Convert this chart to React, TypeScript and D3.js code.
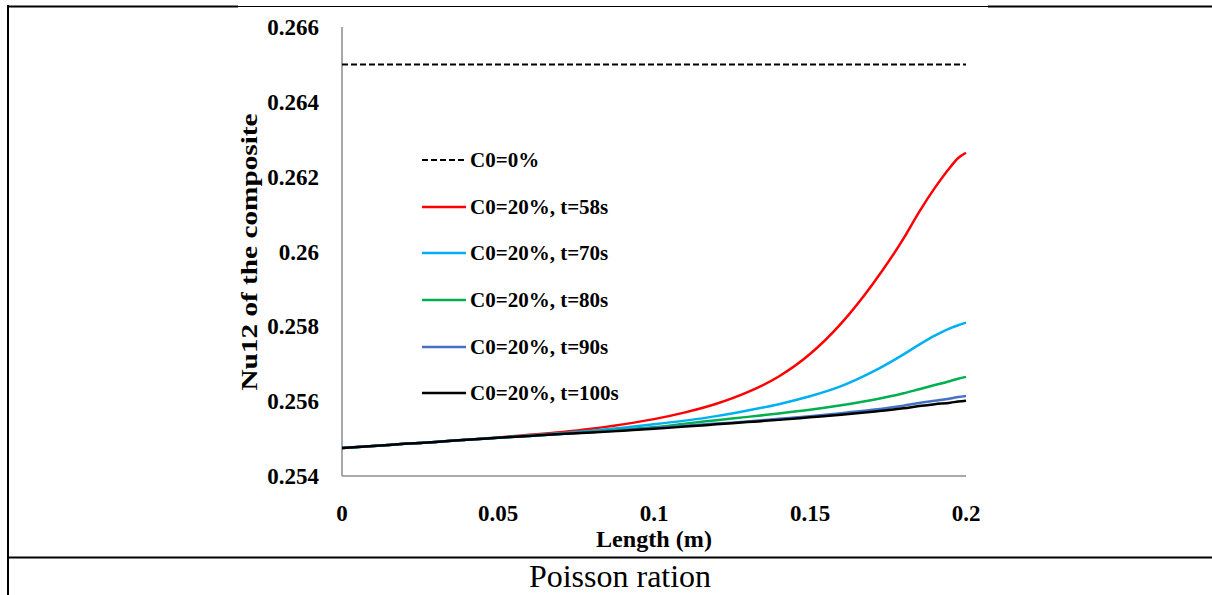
import React from "react";
import * as d3 from "d3";

const xValues = [0, 0.01, 0.02, 0.03, 0.04, 0.05, 0.06, 0.07, 0.08, 0.09, 0.1, 0.11, 0.12, 0.13, 0.14, 0.15, 0.16, 0.17, 0.18, 0.185, 0.19, 0.195, 0.1975, 0.2];
const c0Zero = [0.265, 0.265, 0.265, 0.265, 0.265, 0.265, 0.265, 0.265, 0.265, 0.265, 0.265, 0.265, 0.265, 0.265, 0.265, 0.265, 0.265, 0.265, 0.265, 0.265, 0.265, 0.265, 0.265, 0.265];
const t58 = [0.25475, 0.2548, 0.25486, 0.25491, 0.25497, 0.25503, 0.2551, 0.25517, 0.25526, 0.25538, 0.25552, 0.2557, 0.25593, 0.25624, 0.25666, 0.25726, 0.25808, 0.25912, 0.26035, 0.26106, 0.2617, 0.26226, 0.2625, 0.26264];
const t70 = [0.25475, 0.2548, 0.25486, 0.25491, 0.25497, 0.25502, 0.25508, 0.25514, 0.25521, 0.25529, 0.25538, 0.25548, 0.2556, 0.25575, 0.25592, 0.25613, 0.2564, 0.25678, 0.25725, 0.25751, 0.25775, 0.25795, 0.25803, 0.2581];
const t80 = [0.25475, 0.2548, 0.25486, 0.25491, 0.25497, 0.25502, 0.25507, 0.25512, 0.25518, 0.25524, 0.2553, 0.2554, 0.25549, 0.25558, 0.25567, 0.25577, 0.25589, 0.25603, 0.25621, 0.25632, 0.25643, 0.25654, 0.2566, 0.25665];
const t90 = [0.25475, 0.2548, 0.25486, 0.25491, 0.25497, 0.25502, 0.25507, 0.25512, 0.25517, 0.25522, 0.25528, 0.25534, 0.2554, 0.25546, 0.25553, 0.2556, 0.25568, 0.25577, 0.25588, 0.25595, 0.25601, 0.25607, 0.25611, 0.25614];
const t100 = [0.25475, 0.2548, 0.25486, 0.25491, 0.25497, 0.25502, 0.25507, 0.25512, 0.25516, 0.25521, 0.25526, 0.25532, 0.25538, 0.25544, 0.2555, 0.25557, 0.25564, 0.25572, 0.25581, 0.25587, 0.25592, 0.25596, 0.25599, 0.25601];

const seriesNames = ["C0=0%", "C0=20%, t=58s", "C0=20%, t=70s", "C0=20%, t=80s", "C0=20%, t=90s", "C0=20%, t=100s"];
const seriesColors = ["#000000", "#ff0000", "#00b0f0", "#00b050", "#4472c4", "#000000"];
const seriesData = [c0Zero, t58, t70, t80, t90, t100];

const xTicks = [0, 0.05, 0.1, 0.15, 0.2];
const xTickLabels = ["0", "0.05", "0.1", "0.15", "0.2"];
const yTicks = [0.254, 0.256, 0.258, 0.26, 0.262, 0.264, 0.266];
const yTickLabels = ["0.254", "0.256", "0.258", "0.26", "0.262", "0.264", "0.266"];

const xTitle = "Length (m)";
const yTitle = "Nu12 of the composite";
const caption = "Poisson ration";

export default function App() {
  const W = 1212, H = 595;
  const x = d3.scaleLinear().domain([0, 0.2]).range([342, 966]);
  const y = d3.scaleLinear().domain([0.254, 0.266]).range([476, 27]);
  const line = d3.line<number>().x((_, i) => x(xValues[i])).y((d) => y(d)).curve(d3.curveMonotoneX);
  const serif = { fontFamily: '"Liberation Serif", "DejaVu Serif", serif' };
  const bold = { ...serif, fontWeight: 700 as const };
  const legendRowsY = [160, 207, 253, 300, 347, 393];

  return (
    <svg width={W} height={H} style={{ position: "absolute", left: 0, top: 0, background: "#fff" }}>
      <rect x={0} y={0} width={W} height={H} fill="#fff" />
      {/* table borders */}
      <line x1={8} x2={8} y1={5} y2={595} stroke="#000" strokeWidth={2} />
      <line x1={7} x2={238} y1={6.5} y2={6.5} stroke="#000" strokeWidth={2} />
      <line x1={238} x2={988} y1={6.5} y2={6.5} stroke="#000" strokeWidth={1} />
      <line x1={988} x2={1212} y1={6.5} y2={6.5} stroke="#000" strokeWidth={2} />
      <line x1={7} x2={1212} y1={557.5} y2={557.5} stroke="#000" strokeWidth={2} />
      <text x={620} y={587} textAnchor="middle" style={serif} fontSize={32} fill="#000">{caption}</text>

      {/* axes */}
      <line x1={x(0)} x2={x(0)} y1={y(0.266)} y2={y(0.254)} stroke="#8c8c8c" strokeWidth={1.5} />
      <line x1={x(0)} x2={x(0.2)} y1={y(0.254)} y2={y(0.254)} stroke="#8c8c8c" strokeWidth={1.5} />
      {yTicks.map((t, i) => (
        <text key={"y" + i} x={319} y={y(t) + 8} textAnchor="end" style={bold} fontSize={23} fill="#000">{yTickLabels[i]}</text>
      ))}
      {xTicks.map((t, i) => (
        <text key={"x" + i} x={x(t)} y={521} textAnchor="middle" style={bold} fontSize={23} fill="#000">{xTickLabels[i]}</text>
      ))}
      <text x={654} y={547} textAnchor="middle" style={bold} fontSize={23} textLength={116} lengthAdjust="spacingAndGlyphs" fill="#000">{xTitle}</text>
      <text transform={`translate(257,252) rotate(-90)`} textAnchor="middle" style={bold} fontSize={23} textLength={277} lengthAdjust="spacingAndGlyphs" fill="#000">{yTitle}</text>

      {/* series */}
      {seriesData.map((d, i) => (
        <path key={"s" + i} d={line(d) || ""} fill="none" stroke={seriesColors[i]} strokeWidth={i === 0 ? 2 : 2.5} strokeDasharray={i === 0 ? "6,3" : undefined} />
      ))}

      {/* legend */}
      {seriesNames.map((n, i) => (
        <g key={"l" + i}>
          <line x1={422} x2={466} y1={legendRowsY[i]} y2={legendRowsY[i]} stroke={seriesColors[i]} strokeWidth={i === 0 ? 2 : 2.5} strokeDasharray={i === 0 ? "6,3" : undefined} />
          <text x={470} y={legendRowsY[i] + 7} style={bold} fontSize={21} fill="#000">{n}</text>
        </g>
      ))}
    </svg>
  );
}
